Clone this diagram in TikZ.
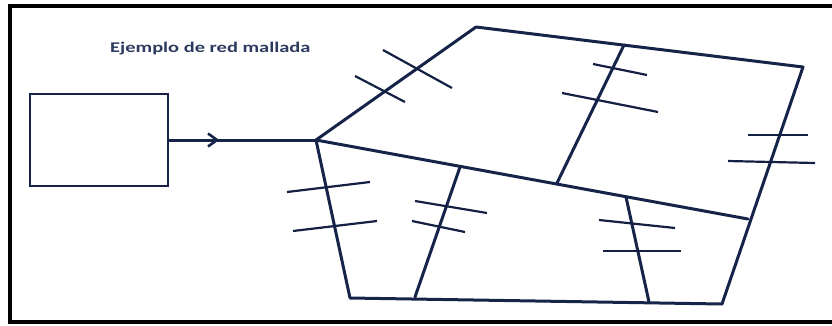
\documentclass[tikz,border=0pt]{standalone}
\usepackage{fontspec}
\setmainfont{Carlito}
\usepackage{tikz}
\usetikzlibrary{arrows.meta,decorations.markings}

\definecolor{navy}{HTML}{16244A}
\definecolor{titleblue}{HTML}{2B3A5E}

\begin{document}
\begin{tikzpicture}[
  x=1pt, y=-1pt,
  wire/.style={draw=navy, line width=3pt, line cap=round, line join=round},
  hashmark/.style={draw=navy!90!black, line width=2.2pt},
  box/.style={draw=navy, line width=2.8pt, inner sep=0pt, minimum width=138pt, minimum height=92pt},
  title/.style={text=titleblue, font=\fontsize{14.8}{18}\selectfont\bfseries, anchor=base west, inner sep=0pt}
]
  \useasboundingbox (0,0) rectangle (832,325);
  % frame, right side cut off
  \draw[line width=3.8pt, black] (840,6) -- (10,6) -- (10,322) -- (840,322);

  \node[title] (lbl) at (110,52) {\scalebox{1.38}[1]{Ejemplo de red mallada}};
  \node[box] (src) at (99,140) {};

  % mesh corners
  \coordinate (hub) at (316,140);
  \coordinate (tl) at (476,27);
  \coordinate (tr) at (803,67);
  \coordinate (br) at (722,304);
  \coordinate (bl) at (350,298);
  \coordinate (mr) at (748,219);
  \coordinate (tm) at (624,45);
  \coordinate (mm) at (557,183);
  \coordinate (m1) at (460,167);
  \coordinate (m2) at (626,197);
  \coordinate (b1) at (415,297);
  \coordinate (b2) at (649,302);

  \draw[wire, postaction={decorate}, decoration={markings,
    mark=at position 0.34 with {\arrow{Straight Barb[length=9pt,width=13pt,line width=2.6pt]}}}]
    (src.east) -- (hub);

  \draw[wire] (hub) -- (tl) -- (tr) -- (br) -- (bl) -- cycle;
  \draw[wire] (hub) -- (mr);
  \draw[wire] (tm) -- (mm);
  \draw[wire] (m1) -- (b1);
  \draw[wire] (m2) -- (b2);

  % hash marks
  \draw[hashmark] (383,50) -- (452,88);
  \draw[hashmark] (355,76) -- (405,102);
  \draw[hashmark] (593,64) -- (647,75);
  \draw[hashmark] (562,93) -- (658,112);
  \draw[hashmark] (748,135) -- (808,135);
  \draw[hashmark] (728,161) -- (815,163);
  \draw[hashmark] (287,192) -- (370,182);
  \draw[hashmark] (293,231) -- (377,221);
  \draw[hashmark] (415,201) -- (487,213);
  \draw[hashmark] (412,221) -- (465,232);
  \draw[hashmark] (599,220) -- (675,228);
  \draw[hashmark] (603,251) -- (681,251);
\end{tikzpicture}
\end{document}
